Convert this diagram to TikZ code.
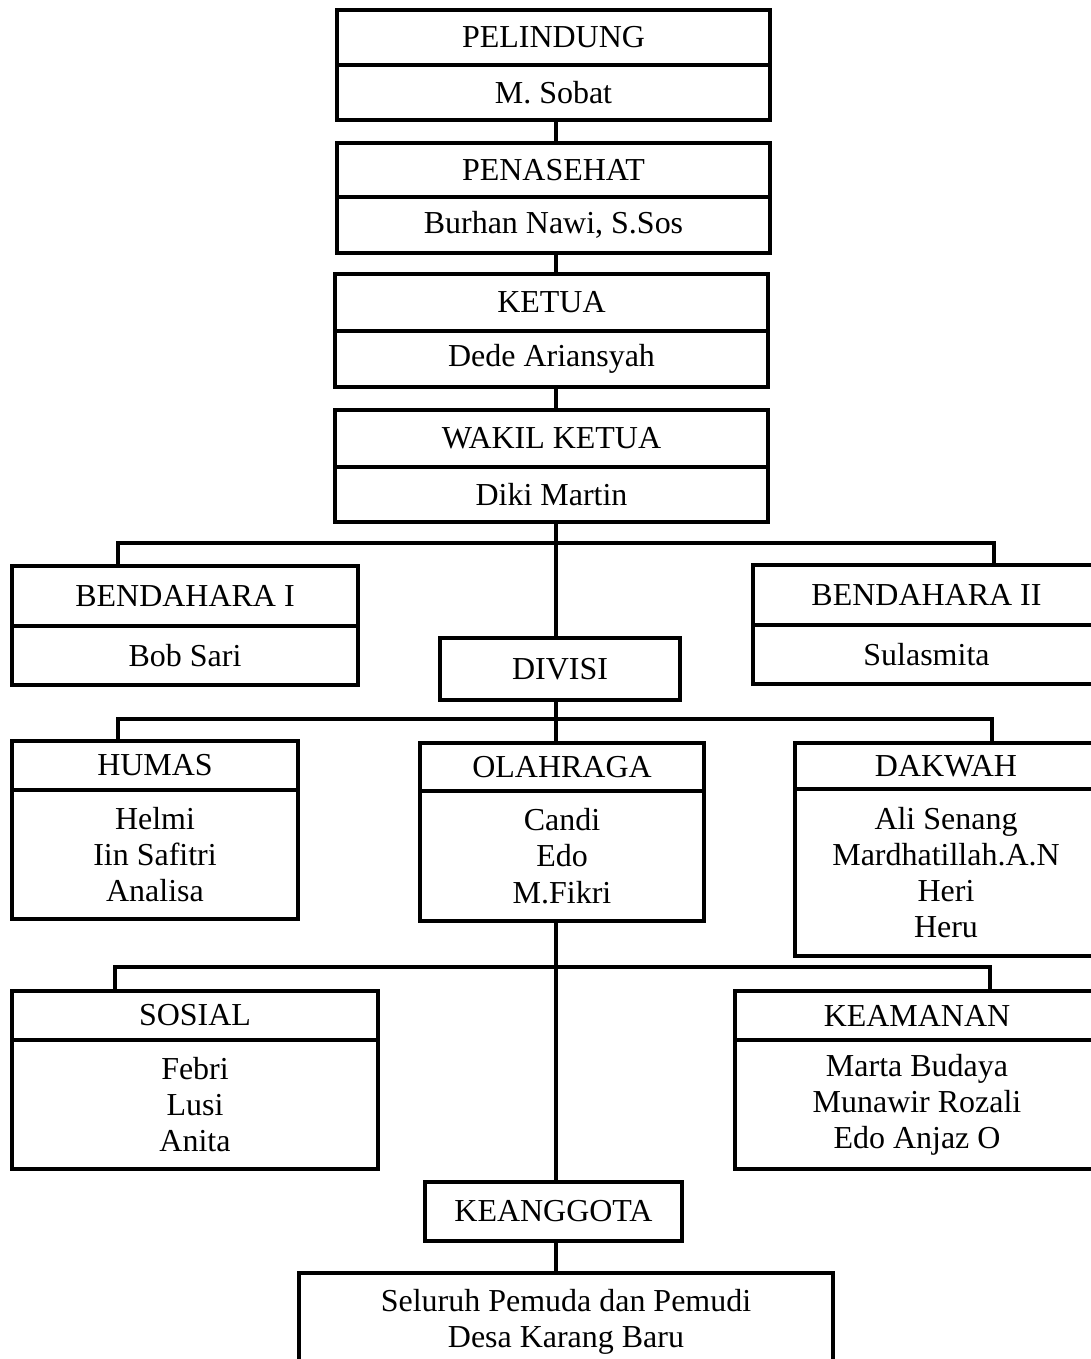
\documentclass[tikz,border=0pt]{standalone}
\usepackage{fontspec}
\setmainfont{Liberation Serif}
\tikzset{
  head/.style    = { draw, line width=2.2pt, inner sep=0pt, align=center, minimum height=#1 },
  member/.style  = { draw, line width=2.2pt, inner sep=0pt, align=center, minimum height=#1 },
  connect/.style = { line width=1.8pt }
}

\begin{document}
\begin{tikzpicture}[x=0.02cm, y=-0.02cm, font=\fontsize{18.2}{20.6}\selectfont]
  \useasboundingbox (0,0) rectangle (1091,1359);
  \clip (0,0) rectangle (1091,1359);
  % Top chain
  \node[head=1.1cm, minimum width=8.66cm]    (pel)    at (553.5,37.5)  {PELINDUNG};
  \node[member=1.1cm, minimum width=8.66cm]  (pel-n)  at (553.5,92.5)  {M. Sobat};
  \node[head=1.08cm, minimum width=8.66cm]   (pen)    at (553.5,170)   {PENASEHAT};
  \node[member=1.12cm, minimum width=8.66cm] (pen-n)  at (553.5,225)   {Burhan Nawi, S.Sos};
  \node[head=1.14cm, minimum width=8.66cm]   (ket)    at (551.5,302.5) {KETUA};
  \node[member=1.12cm, minimum width=8.66cm] (ket-n)  at (551.5,359)   {Dede Ariansyah};
  \node[head=1.14cm, minimum width=8.66cm]   (wak)    at (551.5,438.5) {WAKIL KETUA};
  \node[member=1.1cm, minimum width=8.66cm]  (wak-n)  at (551.5,494.5) {Diki Martin};
  % Bendahara
  \node[head=1.2cm, minimum width=6.92cm]    (ben1)   at (185,596)     {BENDAHARA I};
  \node[member=1.18cm, minimum width=6.92cm] (ben1-n) at (185,655.5)   {Bob Sari};
  \node[head=1.2cm, minimum width=6.94cm]    (ben2)   at (926.5,595)   {BENDAHARA II};
  \node[member=1.18cm, minimum width=6.94cm] (ben2-n) at (926.5,654.5) {Sulasmita};
  \node[head=1.24cm, minimum width=4.8cm]    (div)    at (560,669)     {DIVISI};
  % Divisi
  \node[head=0.98cm, minimum width=5.72cm]   (hum)    at (155,765.5)   {HUMAS};
  \node[member=2.58cm, minimum width=5.72cm] (hum-n)  at (155,854.5)   {Helmi\\Iin Safitri\\Analisa};
  \node[head=0.96cm, minimum width=5.68cm]   (ola)    at (562,767)     {OLAHRAGA};
  \node[member=2.6cm, minimum width=5.68cm]  (ola-n)  at (562,856)     {Candi\\Edo\\M.Fikri};
  \node[head=0.92cm, minimum width=6.04cm]   (dak)    at (946,766)     {DAKWAH};
  \node[member=3.34cm, minimum width=6.04cm] (dak-n)  at (946,872.5)   {Ali Senang\\Mardhatillah.A.N\\Heri\\Heru};
  \node[head=0.98cm, minimum width=7.32cm]   (sos)    at (195,1015.5)  {SOSIAL};
  \node[member=2.58cm, minimum width=7.32cm] (sos-n)  at (195,1104.5)  {Febri\\Lusi\\Anita};
  \node[head=0.98cm, minimum width=7.28cm]   (kea)    at (917,1015.5)  {KEAMANAN};
  \node[member=2.58cm, minimum width=7.28cm] (kea-n)  at (917,1104.5)  {Marta Budaya\\Munawir Rozali\\Edo Anjaz O};
  % Keanggota
  \node[head=1.18cm, minimum width=5.14cm]   (ang)    at (553.5,1211.5) {KEANGGOTA};
  \node[member=1.94cm, minimum width=10.68cm] (ang-n) at (566,1321.5)  {Seluruh Pemuda dan Pemudi\\Desa Karang Baru};
  % Bus points
  \coordinate (spine) at (556,0);
  \coordinate (b1l) at (118,543);
  \coordinate (b1r) at (994,543);
  \coordinate (b2l) at (118,719);
  \coordinate (b2r) at (992,719);
  \coordinate (b3l) at (115,967);
  \coordinate (b3r) at (990,967);
  % Draw connectors
  \draw[connect] (spine |- pel-n.south) -- (spine |- pen.north);
  \draw[connect] (spine |- pen-n.south) -- (spine |- ket.north);
  \draw[connect] (spine |- ket-n.south) -- (spine |- wak.north);
  \draw[connect] (spine |- wak-n.south) -- (spine |- div.north);
  \draw[connect] (b1l |- ben1.north) -- (b1l) -- (b1r) -- (b1r |- ben2.north);
  \draw[connect] (spine |- div.south) -- (spine |- ola.north);
  \draw[connect] (b2l |- hum.north) -- (b2l) -- (b2r) -- (b2r |- dak.north);
  \draw[connect] (spine |- ola-n.south) -- (spine |- ang.north);
  \draw[connect] (b3l |- sos.north) -- (b3l) -- (b3r) -- (b3r |- kea.north);
  \draw[connect] (spine |- ang.south) -- (spine |- ang-n.north);
\end{tikzpicture}
\end{document}
